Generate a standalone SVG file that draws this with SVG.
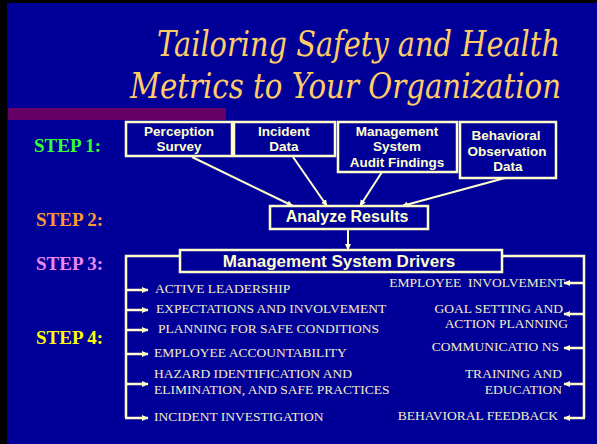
<svg xmlns="http://www.w3.org/2000/svg" width="597" height="444" viewBox="0 0 597 444">
  <defs>
    <marker id="head" markerUnits="userSpaceOnUse" markerWidth="7" markerHeight="7" refX="6" refY="3.5" orient="auto">
      <path d="M0,0.5 L6.5,3.5 L0,6.5 z" fill="#FFFFCC"/>
    </marker>
    <style>
      .heading { font-family: "DejaVu Serif", "Liberation Serif", serif; font-style: italic; font-size: 36px; fill: #FFCC66; }
      .step { font-family: "Liberation Serif", "Times New Roman", serif; font-weight: bold; font-size: 19px; }
      .box { fill: none; stroke: #FFFFCC; stroke-width: 2.5; }
      .btxt { font-family: "Liberation Sans", Arial, sans-serif; font-weight: bold; font-size: 13.5px; fill: #FFFFCC; text-anchor: middle; }
      .item { font-family: "Liberation Serif", "Times New Roman", serif; font-size: 13.5px; fill: #F2EEC4; }
      .r { text-anchor: end; }
      .link { stroke: #FFFFCC; stroke-width: 2; fill: none; marker-end: url(#head); }
      .brk { stroke: #FFFFCC; stroke-width: 2.5; fill: none; }
      .tick { stroke: #FFFFCC; stroke-width: 2.5; fill: none; marker-end: url(#head); }
    </style>
  </defs>

  <!-- slide background -->
  <rect x="0" y="0" width="597" height="444" fill="#000000"/>
  <rect x="7" y="3" width="590" height="441" fill="#000099"/>
  <rect x="8" y="108" width="218" height="12" fill="#660066"/>

  <!-- heading -->
  <text class="heading" x="157" y="56" textLength="403" lengthAdjust="spacingAndGlyphs">Tailoring Safety and Health</text>
  <text class="heading" x="130" y="98" textLength="431" lengthAdjust="spacingAndGlyphs">Metrics to Your Organization</text>

  <!-- step labels -->
  <text class="step" x="34" y="152" fill="#33FF33">STEP 1:</text>
  <text class="step" x="36" y="226" fill="#FF9933">STEP 2:</text>
  <text class="step" x="36" y="270" fill="#EE88EE">STEP 3:</text>
  <text class="step" x="36" y="344" fill="#FFFF00">STEP 4:</text>

  <!-- data sources -->
  <g id="perception-survey">
    <rect class="box" x="126" y="122" width="106" height="34"/>
    <text class="btxt" x="179" y="135.5">Perception</text>
    <text class="btxt" x="179" y="150.5">Survey</text>
  </g>
  <g id="incident-data">
    <rect class="box" x="234" y="122" width="101" height="34"/>
    <text class="btxt" x="284" y="135.5">Incident</text>
    <text class="btxt" x="284" y="150.5">Data</text>
  </g>
  <g id="audit-findings">
    <rect class="box" x="338" y="122" width="119" height="50"/>
    <text class="btxt" x="397" y="135.5">Management</text>
    <text class="btxt" x="397" y="151">System</text>
    <text class="btxt" x="397" y="166.5">Audit Findings</text>
  </g>
  <g id="observation-data">
    <rect class="box" x="460" y="122" width="96" height="56"/>
    <text class="btxt" x="506" y="139.5">Behavioral</text>
    <text class="btxt" x="507" y="155.5">Observation</text>
    <text class="btxt" x="508" y="170.5">Data</text>
  </g>

  <!-- analysis -->
  <g id="analyze-results">
    <rect class="box" x="270" y="206" width="158" height="23"/>
    <text class="btxt" x="347" y="222" style="font-size:16px">Analyze Results</text>
  </g>

  <!-- drivers -->
  <g id="system-drivers">
    <rect class="box" x="180" y="250" width="322" height="22"/>
    <text class="btxt" x="339" y="267" style="font-size:17px">Management System Drivers</text>
  </g>

  <!-- driver lists -->
  <g id="drivers-left">
    <text class="item" x="155" y="292.5">ACTIVE LEADERSHIP</text>
    <text class="item" x="156" y="312.5">EXPECTATIONS AND INVOLVEMENT</text>
    <text class="item" x="158" y="332.5">PLANNING FOR SAFE CONDITIONS</text>
    <text class="item" x="154" y="356.5">EMPLOYEE ACCOUNTABILITY</text>
    <text class="item" x="154" y="378">HAZARD IDENTIFICATION AND</text>
    <text class="item" x="154" y="394">ELIMINATION, AND SAFE PRACTICES</text>
    <text class="item" x="154" y="420.5">INCIDENT INVESTIGATION</text>
  </g>
  <g id="drivers-right">
    <text class="item r" x="565" y="286.5" xml:space="preserve">EMPLOYEE  INVOLVEMENT</text>
    <text class="item r" x="563" y="312.5">GOAL SETTING AND</text>
    <text class="item r" x="568" y="328">ACTION PLANNING</text>
    <text class="item r" x="559" y="350.5">COMMUNICATIO NS</text>
    <text class="item r" x="562" y="378">TRAINING AND</text>
    <text class="item r" x="562" y="394">EDUCATION</text>
    <text class="item r" x="558" y="420">BEHAVIORAL FEEDBACK</text>
  </g>

  <!-- connectors -->
  <g id="connectors">
    <line class="link" x1="192" y1="157" x2="293" y2="206"/>
    <line class="link" x1="293" y1="157" x2="327" y2="206"/>
    <line class="link" x1="382" y1="172" x2="360" y2="206"/>
    <line class="link" x1="505" y1="178" x2="402" y2="206"/>
    <line class="link" x1="348" y1="229" x2="348" y2="250"/>

    <path class="brk" d="M180,256 H126 V418"/>
    <line class="tick" x1="125" y1="290" x2="148" y2="290"/>
    <line class="tick" x1="125" y1="310" x2="148" y2="310"/>
    <line class="tick" x1="125" y1="330" x2="148" y2="330"/>
    <line class="tick" x1="125" y1="354" x2="148" y2="354"/>
    <line class="tick" x1="125" y1="384" x2="148" y2="384"/>
    <line class="tick" x1="125" y1="418" x2="148" y2="418"/>

    <path class="brk" d="M502,256 H584 V418"/>
    <line class="tick" x1="585" y1="283" x2="564" y2="283"/>
    <line class="tick" x1="585" y1="314" x2="564" y2="314"/>
    <line class="tick" x1="585" y1="348" x2="564" y2="348"/>
    <line class="tick" x1="585" y1="384" x2="564" y2="384"/>
    <line class="tick" x1="585" y1="418" x2="564" y2="418"/>
  </g>
</svg>
